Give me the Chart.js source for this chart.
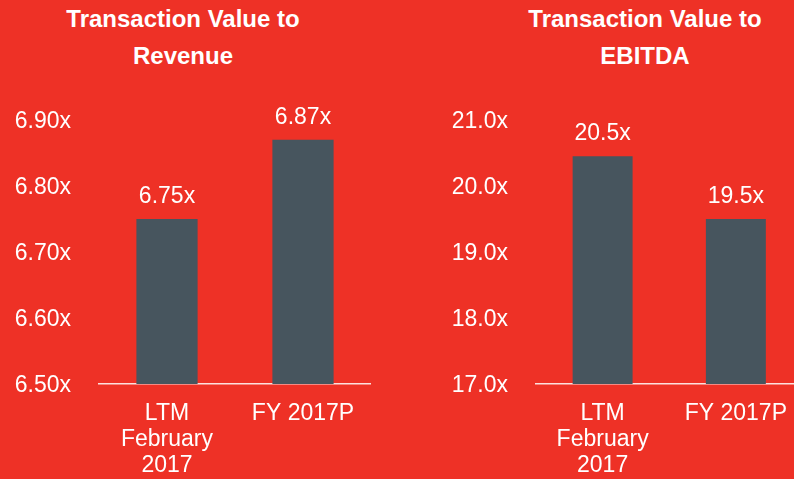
<!DOCTYPE html>
<html>
<head>
<meta charset="utf-8">
<script src="https://cdn.jsdelivr.net/npm/chart.js@4.4.1/dist/chart.umd.min.js"></script>
<style>
  html, body { margin:0; padding:0; width:794px; height:479px; overflow:hidden; background:#EE3126; }
  .title { position:absolute; top:0; color:#fff; font-family:"Liberation Sans", Arial, sans-serif; font-weight:bold; font-size:24px; line-height:37px; text-align:center; white-space:nowrap; }
  canvas { position:absolute; top:0; }
</style>
</head>
<body>
<div class="title" id="t1" style="left:33px; width:300px;">Transaction Value to<br>Revenue</div>
<div class="title" id="t2" style="left:495px; width:300px;">Transaction Value to<br>EBITDA</div>
<canvas id="c1" width="371" height="479" style="left:0px;"></canvas>
<canvas id="c2" width="366" height="479" style="left:437px;"></canvas>
<script>
const categories = [["LTM", "February", "2017"], "FY 2017P"];
const revenueValues = [6.75, 6.87];
const revenueLabels = ["6.75x", "6.87x"];
const revenueTicks = [6.5, 6.6, 6.7, 6.8, 6.9];
const revenueTickLabels = ["6.50x", "6.60x", "6.70x", "6.80x", "6.90x"];
const ebitdaValues = [20.45, 19.5];
const ebitdaLabels = ["20.5x", "19.5x"];
const ebitdaTicks = [17, 18, 19, 20, 21];
const ebitdaTickLabels = ["17.0x", "18.0x", "19.0x", "20.0x", "21.0x"];

const FONT = '"Liberation Sans", Arial, sans-serif';
const BAR = '#47555E';
const WHITE = '#FFFFFF';

const valueLabelPlugin = {
  id: 'valueLabels',
  afterDatasetsDraw(chart) {
    const ctx = chart.ctx;
    const labels = chart.options.plugins.valueLabels.labels;
    const meta = chart.getDatasetMeta(0);
    ctx.save();
    ctx.fillStyle = WHITE;
    ctx.font = '23px ' + FONT;
    ctx.textAlign = 'center';
    ctx.textBaseline = 'alphabetic';
    meta.data.forEach((bar, i) => {
      ctx.fillText(labels[i], bar.x, bar.y - 16);
    });
    ctx.restore();
  }
};

function makeChart(id, values, labels, ticks, tickLabels) {
  return new Chart(document.getElementById(id), {
    type: 'bar',
    data: {
      labels: categories,
      datasets: [{
        data: values,
        backgroundColor: BAR,
        borderWidth: 0,
        barPercentage: 0.45,
        categoryPercentage: 1.0
      }]
    },
    options: {
      responsive: false,
      animation: false,
      layout: { padding: { top: 120, left: 0, right: 0, bottom: 0 } },
      plugins: {
        legend: { display: false },
        tooltip: { enabled: false },
        title: { display: false },
        valueLabels: { labels: labels }
      },
      scales: {
        x: {
          grid: { display: false, drawTicks: false },
          border: { display: true, color: 'rgba(255,255,255,0.85)', width: 1.5 },
          ticks: { color: WHITE, font: { family: FONT, size: 23, lineHeight: 1.15 }, padding: 16, maxRotation: 0, autoSkip: false },
          afterFit(scale) { scale.height = 95; }
        },
        y: {
          min: ticks[0],
          max: ticks[ticks.length - 1],
          grid: { display: false, drawTicks: false },
          border: { display: false },
          afterBuildTicks(scale) { scale.ticks = ticks.map(v => ({ value: v })); },
          ticks: {
            color: WHITE,
            font: { family: FONT, size: 23 },
            padding: 28,
            labelOffset: 2,
            callback: function(value, index) { return tickLabels[index]; }
          },
          afterFit(scale) { scale.width = 99; }
        }
      }
    },
    plugins: [valueLabelPlugin]
  });
}

makeChart('c1', revenueValues, revenueLabels, revenueTicks, revenueTickLabels);
makeChart('c2', ebitdaValues, ebitdaLabels, ebitdaTicks, ebitdaTickLabels);
</script>
</body>
</html>
